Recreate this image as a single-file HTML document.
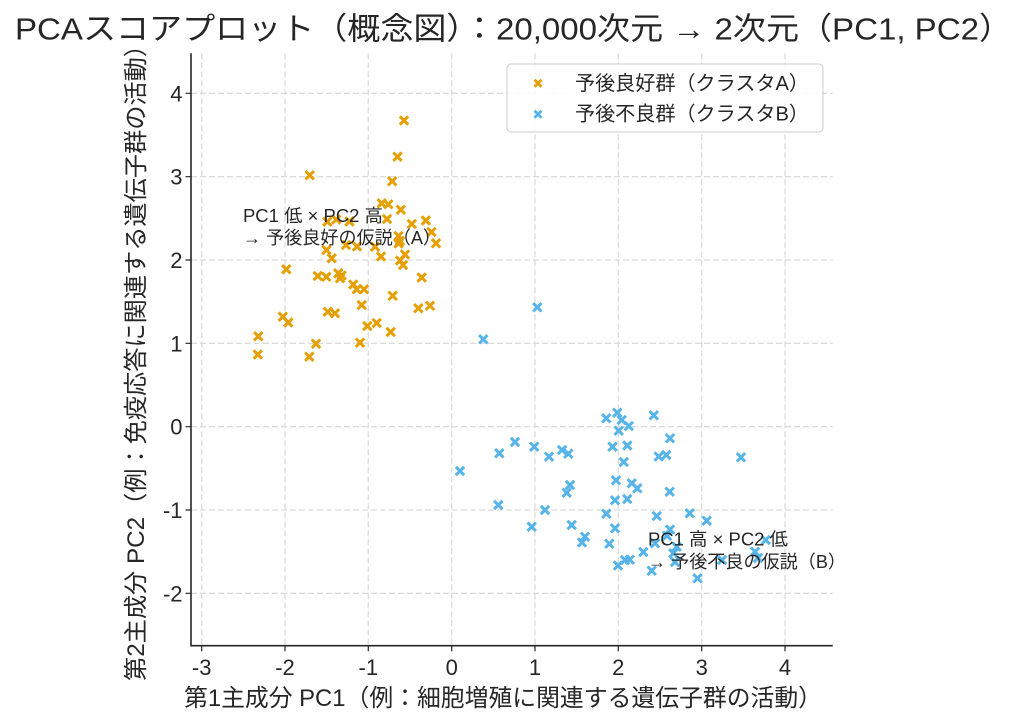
<!DOCTYPE html>
<html><head><meta charset="utf-8"><style>
html,body{margin:0;padding:0;background:#fff;}
svg{display:block;}
text{font-family:"Liberation Sans","Noto Sans CJK JP",sans-serif;fill:#262626;}
</style></head><body>
<svg width="1024" height="728" viewBox="0 0 1024 728" xmlns="http://www.w3.org/2000/svg" xmlns:xlink="http://www.w3.org/1999/xlink">
<defs><path id="m" d="M-4.2,-4.2L4.2,4.2M4.2,-4.2L-4.2,4.2" fill="none"/></defs>
<rect width="1024" height="728" fill="#fff"/>
<path stroke="#dcdcdc" stroke-width="1.3" stroke-dasharray="6,3" fill="none" d="M201.7,53.3V645.7M285,53.3V645.7M368.3,53.3V645.7M451.7,53.3V645.7M535,53.3V645.7M618.3,53.3V645.7M701.7,53.3V645.7M785,53.3V645.7M191,93.3H832.7M191,176.7H832.7M191,260H832.7M191,343.3H832.7M191,426.7H832.7M191,510H832.7M191,593.3H832.7"/>
<g stroke="#E69F00" stroke-width="3">
<use xlink:href="#m" x="404" y="120.5"/><use xlink:href="#m" x="397.5" y="156.7"/><use xlink:href="#m" x="309.7" y="175.2"/><use xlink:href="#m" x="392.2" y="181.3"/>
<use xlink:href="#m" x="381.7" y="203.3"/><use xlink:href="#m" x="388.3" y="204.3"/><use xlink:href="#m" x="400.8" y="209.7"/><use xlink:href="#m" x="387" y="219"/>
<use xlink:href="#m" x="327.3" y="221.7"/><use xlink:href="#m" x="336.3" y="219.5"/><use xlink:href="#m" x="349.5" y="221.5"/><use xlink:href="#m" x="411.8" y="224"/>
<use xlink:href="#m" x="425.8" y="220.5"/><use xlink:href="#m" x="431.5" y="232"/><use xlink:href="#m" x="436" y="243.3"/><use xlink:href="#m" x="398.5" y="236"/>
<use xlink:href="#m" x="400" y="241"/><use xlink:href="#m" x="326.5" y="250"/><use xlink:href="#m" x="331.7" y="258.3"/><use xlink:href="#m" x="346" y="245"/>
<use xlink:href="#m" x="357" y="246.5"/><use xlink:href="#m" x="375" y="246.7"/><use xlink:href="#m" x="381" y="256.5"/><use xlink:href="#m" x="398.5" y="243.5"/>
<use xlink:href="#m" x="400" y="260.5"/><use xlink:href="#m" x="405" y="254.5"/><use xlink:href="#m" x="403" y="265"/><use xlink:href="#m" x="286.3" y="269.3"/>
<use xlink:href="#m" x="317.8" y="276"/><use xlink:href="#m" x="326.3" y="276.8"/><use xlink:href="#m" x="338.3" y="273.3"/><use xlink:href="#m" x="340" y="278.3"/>
<use xlink:href="#m" x="341.7" y="275.5"/><use xlink:href="#m" x="353.3" y="284.5"/><use xlink:href="#m" x="356.7" y="289.3"/><use xlink:href="#m" x="364" y="289.3"/>
<use xlink:href="#m" x="421.7" y="277.5"/><use xlink:href="#m" x="392.7" y="295.8"/><use xlink:href="#m" x="361.7" y="305"/><use xlink:href="#m" x="327.8" y="311.7"/>
<use xlink:href="#m" x="335" y="313.3"/><use xlink:href="#m" x="418.3" y="308.3"/><use xlink:href="#m" x="430" y="305.8"/><use xlink:href="#m" x="282.8" y="316.7"/>
<use xlink:href="#m" x="288.3" y="322.5"/><use xlink:href="#m" x="367.3" y="326"/><use xlink:href="#m" x="376.7" y="323"/><use xlink:href="#m" x="390.7" y="332"/>
<use xlink:href="#m" x="258.3" y="336.3"/><use xlink:href="#m" x="316" y="343.7"/><use xlink:href="#m" x="360" y="342.7"/><use xlink:href="#m" x="257.8" y="354.5"/>
<use xlink:href="#m" x="309.3" y="356.7"/>
</g>
<g stroke="#56B4E9" stroke-width="3">
<use xlink:href="#m" x="537.3" y="307.3"/><use xlink:href="#m" x="483.3" y="339.3"/><use xlink:href="#m" x="460" y="471"/><use xlink:href="#m" x="499.3" y="453.3"/>
<use xlink:href="#m" x="515" y="442"/><use xlink:href="#m" x="534.2" y="446.7"/><use xlink:href="#m" x="549" y="456.7"/><use xlink:href="#m" x="562" y="450"/>
<use xlink:href="#m" x="568.3" y="453.8"/><use xlink:href="#m" x="606.3" y="418.3"/><use xlink:href="#m" x="617.3" y="412.7"/><use xlink:href="#m" x="621.7" y="420"/>
<use xlink:href="#m" x="628.8" y="426"/><use xlink:href="#m" x="618.7" y="430.7"/><use xlink:href="#m" x="653.8" y="415.3"/><use xlink:href="#m" x="670" y="438.3"/>
<use xlink:href="#m" x="612.5" y="446.7"/><use xlink:href="#m" x="627.3" y="445.5"/><use xlink:href="#m" x="623.8" y="462"/><use xlink:href="#m" x="658.7" y="456.5"/>
<use xlink:href="#m" x="666.3" y="455"/><use xlink:href="#m" x="741" y="457.3"/><use xlink:href="#m" x="616" y="480.3"/><use xlink:href="#m" x="631.7" y="483.3"/>
<use xlink:href="#m" x="637.3" y="488.3"/><use xlink:href="#m" x="669.7" y="491.7"/><use xlink:href="#m" x="570" y="485"/><use xlink:href="#m" x="566.7" y="492.7"/>
<use xlink:href="#m" x="615" y="500.3"/><use xlink:href="#m" x="627.3" y="499"/><use xlink:href="#m" x="498.3" y="505"/><use xlink:href="#m" x="545" y="510"/>
<use xlink:href="#m" x="531.7" y="526.7"/><use xlink:href="#m" x="571.7" y="525"/><use xlink:href="#m" x="606.3" y="513.7"/><use xlink:href="#m" x="615" y="528.3"/>
<use xlink:href="#m" x="656.7" y="516"/><use xlink:href="#m" x="689.7" y="513.3"/><use xlink:href="#m" x="706.7" y="520.7"/><use xlink:href="#m" x="585" y="536.7"/>
<use xlink:href="#m" x="582" y="542.5"/><use xlink:href="#m" x="609.3" y="543.7"/><use xlink:href="#m" x="643.3" y="552"/><use xlink:href="#m" x="625" y="560"/>
<use xlink:href="#m" x="629.8" y="559.7"/><use xlink:href="#m" x="618" y="565.5"/><use xlink:href="#m" x="651.7" y="570.7"/><use xlink:href="#m" x="697.5" y="578.3"/>
<use xlink:href="#m" x="670" y="529.5"/><use xlink:href="#m" x="667" y="535.8"/><use xlink:href="#m" x="655" y="543.3"/><use xlink:href="#m" x="676.7" y="546.7"/>
<use xlink:href="#m" x="673.3" y="553.3"/><use xlink:href="#m" x="675" y="562"/><use xlink:href="#m" x="755" y="551.7"/><use xlink:href="#m" x="765.7" y="540"/>
<use xlink:href="#m" x="722" y="560"/><use xlink:href="#m" x="758" y="558"/>
</g>
<path stroke="#262626" stroke-width="1.6" fill="none" d="M191,53.3V646.5M190.2,645.7H832.7"/>
<path stroke="#262626" stroke-width="1.2" fill="none" d="M201.7,645.7v5.5M285,645.7v5.5M368.3,645.7v5.5M451.7,645.7v5.5M535,645.7v5.5M618.3,645.7v5.5M701.7,645.7v5.5M785,645.7v5.5M191,93.3h-5.5M191,176.7h-5.5M191,260h-5.5M191,343.3h-5.5M191,426.7h-5.5M191,510h-5.5M191,593.3h-5.5"/>
<g font-size="22" text-anchor="middle">
<text x="201.7" y="675">-3</text><text x="285" y="675">-2</text><text x="368.3" y="675">-1</text><text x="451.7" y="675">0</text>
<text x="535" y="675">1</text><text x="618.3" y="675">2</text><text x="701.7" y="675">3</text><text x="785" y="675">4</text>
</g>
<g font-size="22" text-anchor="end">
<text x="182.5" y="101.3">4</text><text x="182.5" y="184.7">3</text><text x="182.5" y="268">2</text><text x="182.5" y="351.3">1</text>
<text x="182.5" y="434.7">0</text><text x="182.5" y="518">-1</text><text x="182.5" y="601.3">-2</text>
</g>
<g font-size="18" style="fill:#333">
<text x="243" y="222" textLength="140" lengthAdjust="spacingAndGlyphs">PC1 低 × PC2 高</text>
<text x="243" y="244" textLength="198" lengthAdjust="spacingAndGlyphs">→ 予後良好の仮説（A）</text>
<text x="648" y="545.5" textLength="140" lengthAdjust="spacingAndGlyphs">PC1 高 × PC2 低</text>
<text x="648" y="568" textLength="198" lengthAdjust="spacingAndGlyphs">→ 予後不良の仮説（B）</text>
</g>
<rect x="507" y="64" width="316" height="68" rx="4" ry="4" fill="#fff" fill-opacity="0.85" stroke="#cccccc" stroke-width="1"/>
<path stroke="#E69F00" stroke-width="2.8" fill="none" d="M534.5,79.8l7,7m0,-7l-7,7"/>
<path stroke="#56B4E9" stroke-width="2.8" fill="none" d="M534.5,110.8l7,7m0,-7l-7,7"/>
<g font-size="20">
<text x="575" y="90" textLength="234" lengthAdjust="spacingAndGlyphs">予後良好群（クラスタA）</text>
<text x="575" y="120.5" textLength="234" lengthAdjust="spacingAndGlyphs">予後不良群（クラスタB）</text>
</g>
<text x="184" y="706" font-size="24" textLength="638" lengthAdjust="spacingAndGlyphs">第1主成分 PC1（例：細胞増殖に関連する遺伝子群の活動）</text>
<text transform="translate(144,681) rotate(-90)" x="0" y="0" font-size="24" textLength="648" lengthAdjust="spacingAndGlyphs">第2主成分 PC2（例：免疫応答に関連する遺伝子群の活動）</text>
<text x="15" y="39.5" font-size="31" textLength="997" lengthAdjust="spacingAndGlyphs">PCAスコアプロット（概念図）：20,000次元 → 2次元（PC1, PC2）</text>
</svg>
</body></html>
